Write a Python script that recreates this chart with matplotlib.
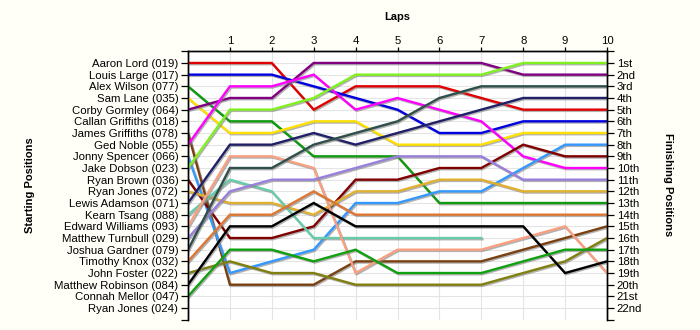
import matplotlib
matplotlib.use("Agg")
import matplotlib.pyplot as plt
import matplotlib.patheffects as pe

plt.rcParams['font.family'] = ['Liberation Sans', 'DejaVu Sans']

laps = [0, 1, 2, 3, 4, 5, 6, 7, 8, 9, 10]
lap_labels = ['1', '2', '3', '4', '5', '6', '7', '8', '9', '10']

start_names = [
    "Aaron Lord (019)", "Louis Large (017)", "Alex Wilson (077)", "Sam Lane (035)",
    "Corby Gormley (064)", "Callan Griffiths (018)", "James Griffiths (078)",
    "Ged Noble (055)", "Jonny Spencer (066)", "Jake Dobson (023)", "Ryan Brown (036)",
    "Ryan Jones (072)", "Lewis Adamson (071)", "Kearn Tsang (088)",
    "Edward Williams (093)", "Matthew Turnbull (029)", "Joshua Gardner (079)",
    "Timothy Knox (032)", "John Foster (022)", "Matthew Robinson (084)",
    "Connah Mellor (047)", "Ryan Jones (024)",
]
finish_labels = ["1st", "2nd", "3rd", "4th", "5th", "6th", "7th", "8th", "9th", "10th",
                 "11th", "12th", "13th", "14th", "15th", "16th", "17th", "18th", "19th",
                 "20th", "21st", "22nd"]

# positions per lap (lap 0 = starting position)
aaron_lord = [1, 1, 1, 5, 3, 3, 3, 4, 5, 5, 5]
louis_large = [2, 2, 2, 3, 4, 5, 7, 7, 6, 6, 6]
alex_wilson = [3, 6, 6, 9, 9, 9, 13, 13, 13, 13, 13]
sam_lane = [4, 7, 7, 6, 6, 8, 8, 8, 7, 7, 7]
corby_gormley = [5, 4, 4, 1, 1, 1, 1, 1, 2, 2, 2]
james_griffiths = [7, 20, 20, 20, 18, 18, 18, 18, 17, 16, 15]
ged_noble = [8, 3, 3, 2, 5, 4, 5, 6, 9, 10, 10]
jonny_spencer = [9, 19, 18, 17, 13, 13, 12, 12, 10, 8, 8]
jake_dobson = [10, 5, 5, 4, 2, 2, 2, 2, 1, 1, 1]
ryan_brown = [11, 16, 16, 15, 11, 11, 10, 10, 8, 9, 9]
ryan_jones_072 = [12, 13, 13, 14, 12, 12, 11, 11, 12, 12, 12]
lewis_adamson = [13, 8, 8, 7, 8, 7, 6, 5, 4, 4, 4]
kearn_tsang = [14, 11, 12, 16, 16, 16, 16, 16]
edward_williams = [15, 9, 9, 10, 19, 17, 17, 17, 16, 15, 19]
matthew_turnbull = [16, 12, 11, 11, 10, 9, 9, 9, 11, 11, 11]
joshua_gardner = [17, 10, 10, 8, 7, 6, 4, 3, 3, 3, 3]
timothy_knox = [18, 14, 14, 12, 14, 14, 14, 14, 14, 14, 14]
john_foster = [19, 18, 19, 19, 20, 20, 20, 20, 19, 18, 16]
matthew_robinson = [20, 15, 15, 13, 15, 15, 15, 15, 15, 19, 18]
connah_mellor = [21, 17, 17, 18, 17, 19, 19, 19, 18, 17, 17]

series = [
    (aaron_lord, '#E00000'),
    (louis_large, '#0000E0'),
    (alex_wilson, '#109A10'),
    (sam_lane, '#FFE000'),
    (corby_gormley, '#800080'),
    (james_griffiths, '#7A4010'),
    (ged_noble, '#FF00FF'),
    (jonny_spencer, '#3399FF'),
    (jake_dobson, '#80F020'),
    (ryan_brown, '#800000'),
    (ryan_jones_072, '#E0B030'),
    (lewis_adamson, '#202068'),
    (kearn_tsang, '#66CCAA'),
    (edward_williams, '#F8A080'),
    (matthew_turnbull, '#9980DD'),
    (joshua_gardner, '#2F4F4A'),
    (timothy_knox, '#DD7733'),
    (john_foster, '#808010'),
    (matthew_robinson, '#000000'),
    (connah_mellor, '#10A010'),
]

bg = '#FFFFF8'
fig = plt.figure(figsize=(7, 3.3), dpi=100, facecolor=bg)
ax = fig.add_axes([188/700, 1-319.7/330, (607-188)/700, (319.7-51.3)/330])
ax.set_facecolor('white')

ax.set_xlim(0, 10)
ax.set_ylim(23, 0)

# grid
for p in range(1, 23):
    ax.axhline(p, color='#E4E4E4', lw=0.8, zorder=0)
for l in range(1, 10):
    ax.axvline(l, color='#E4E4E4', lw=0.8, zorder=0)

shadow = [pe.SimpleLineShadow(offset=(0.8, -0.9), shadow_color='#808080', alpha=0.6), pe.Normal()]
for vals, col in series:
    ax.plot(laps[:len(vals)], vals, color=col, lw=1.7, solid_joinstyle='miter',
            path_effects=shadow, zorder=3)

# left axis
ax.set_yticks(range(0, 24))
ax.set_yticklabels([''] + start_names + [''], fontsize=8.2)
ax.tick_params(axis='y', direction='out', length=5, width=0.9, pad=2, color='black')

# right axis
axr = ax.twinx()
axr.set_ylim(23, 0)
axr.set_yticks(range(0, 24))
axr.set_yticklabels([''] + finish_labels + [''], fontsize=8.2)
axr.tick_params(axis='y', direction='out', length=5, width=0.9, pad=2)

# top axis
ax.xaxis.tick_top()
ax.set_xticks(range(1, 11))
ax.set_xticklabels(lap_labels, fontsize=8.2)
ax.tick_params(axis='x', direction='out', length=3, width=0.9, pad=1)

for a in (ax, axr):
    a.spines['bottom'].set_visible(False)
    for s in ('left', 'right', 'top'):
        a.spines[s].set_linewidth(1.0)

fig.text(397/700, 1-17/330, 'Laps', ha='center', va='center', fontsize=8, fontweight='bold')
fig.text(30/700, 1-185/330, 'Starting Positions', ha='center', va='center', rotation=90,
         fontsize=8, fontweight='bold')
fig.text(668/700, 1-185/330, 'Finishing Positions', ha='center', va='center', rotation=-90,
         fontsize=8, fontweight='bold')

fig.savefig('out.png', dpi=100, facecolor=bg)
